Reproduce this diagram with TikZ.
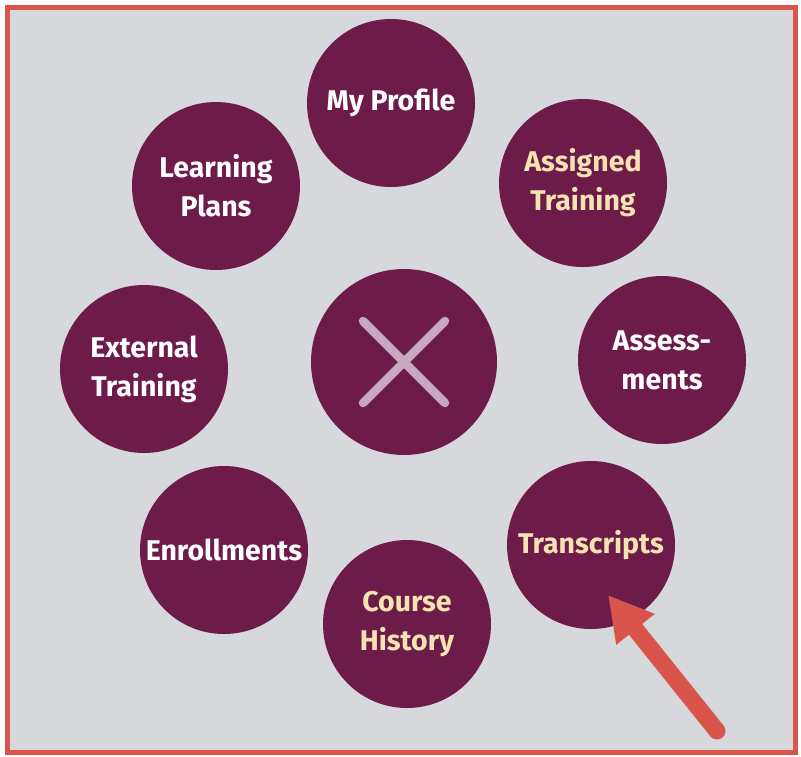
\documentclass[tikz,border=0pt]{standalone}
\usepackage{fontspec}
\setmainfont{Fira Sans}
\usetikzlibrary{arrows.meta,shapes,positioning,calc}
\definecolor{plum}{HTML}{6D1C49}
\definecolor{cream}{HTML}{F7E3B2}
\definecolor{panel}{HTML}{D6D8DC}
\definecolor{frame}{HTML}{D9554B}
\definecolor{cross}{HTML}{C8A8BF}
\tikzset{
  bub/.style    = { circle, fill=plum, minimum size=168pt, inner sep=0pt, align=center,
    font=\bfseries\fontsize{28.5}{39}\selectfont },
  wt/.style     = { bub, text=white },
  cr/.style     = { bub, text=cream },
  hub/.style    = { circle, fill=plum, minimum size=186pt, inner sep=0pt },
  xln/.style    = { draw=cross, line width=8.5pt, line cap=round },
  pointer/.style= { draw=frame, line width=17pt, line cap=round,
    -{Triangle[length=44pt,width=46pt]} }
}
\begin{document}
\begin{tikzpicture}[x=1pt,y=-1pt]
      % panel and frame
      \fill[white] (0,0) rectangle (801,756);
      \useasboundingbox (0,0) rectangle (801,756);
      \filldraw[fill=panel, draw=frame, line width=5pt] (7,7) rectangle (795,752);
      \node[hub] (v0) at (404,362) {};
      \node[wt] (v1) at (391,103) {My Profile};
      \node[cr] (v2) at (583,183) {Assigned\\Training};
      \node[wt] (v3) at (662,360) {Assess-\\ments};
      \node[cr] (v4) at (591,545) {Transcripts};
      \node[cr] (v5) at (407,624) {Course\\History};
      \node[wt] (v6) at (224,550) {Enrollments};
      \node[wt] (v7) at (144,369) {External\\Training};
      \node[wt] (v8) at (216,186) {Learning\\Plans};
      \draw[xln] ([shift={(-41,-41)}]v0.center) -- ([shift={(41,41)}]v0.center);
      \draw[xln] ([shift={(41,-41)}]v0.center) -- ([shift={(-41,41)}]v0.center);
      \coordinate (tail) at (717,731);
      \coordinate (tip) at (608,595);
      \path[pointer] (tail) -- (tip);
    \end{tikzpicture}
\end{document}
